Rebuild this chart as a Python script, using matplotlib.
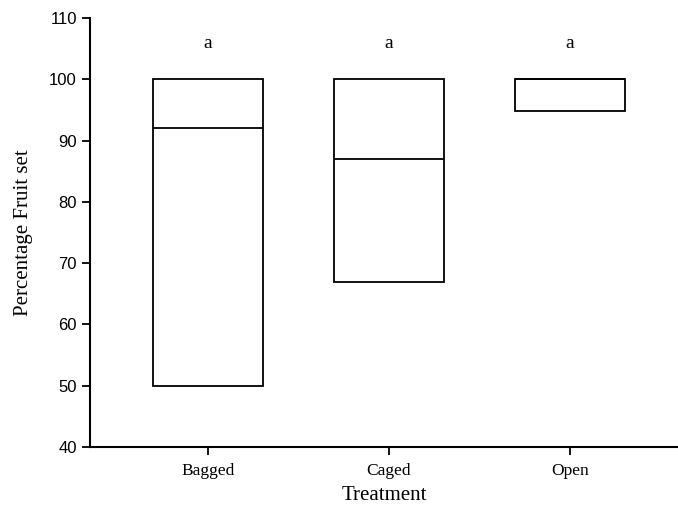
import matplotlib
matplotlib.use('Agg')
import matplotlib.pyplot as plt

# data
treatments = ['Bagged', 'Caged', 'Open']
q1 = [50, 67, 94.8]
medians = [92, 87, 100]
q3 = [100, 100, 100]
letters = ['a', 'a', 'a']
letter_y = 105.8

serif = ['Liberation Serif', 'DejaVu Serif']
sans = ['Liberation Sans', 'DejaVu Sans']

fig = plt.figure(figsize=(6.78, 5.08), dpi=100)
ax = fig.add_axes([0.133, 0.12, 0.867, 0.8446])

positions = list(range(1, len(treatments) + 1))
stats = []
for name, lo, med, hi in zip(treatments, q1, medians, q3):
    stats.append({'label': name, 'q1': lo, 'med': med, 'q3': hi,
                  'whislo': lo, 'whishi': hi, 'fliers': []})

ax.bxp(stats, positions=positions, widths=0.61, showcaps=False,
       showfliers=False, patch_artist=True,
       boxprops=dict(facecolor='white', edgecolor='black', linewidth=1.3),
       medianprops=dict(color='black', linewidth=1.3),
       whiskerprops=dict(linewidth=0))

for x, letter in zip(positions, letters):
    ax.text(x, letter_y, letter, ha='center', va='center',
            fontsize=14, family=serif)

ax.set_xlim(0.348, 3.597)
ax.set_ylim(40, 110)
ax.set_yticks(range(40, 111, 10))
ax.set_xticks(positions)
ax.set_xticklabels(treatments, family=serif, fontsize=12.5)
for lab in ax.get_yticklabels():
    lab.set_family(sans)
    lab.set_fontsize(12)

ax.spines['top'].set_visible(False)
ax.spines['right'].set_visible(False)
for s in ('left', 'bottom'):
    ax.spines[s].set_linewidth(1.5)
ax.tick_params(direction='out', length=5.5, width=1.3, pad=4)
ax.tick_params(axis='x', pad=6)

ax.set_xlabel('Treatment', family=serif, fontsize=15, labelpad=5)
ax.set_ylabel('Percentage Fruit set', family=serif, fontsize=15, labelpad=12)

fig.savefig('out.png', dpi=100)
